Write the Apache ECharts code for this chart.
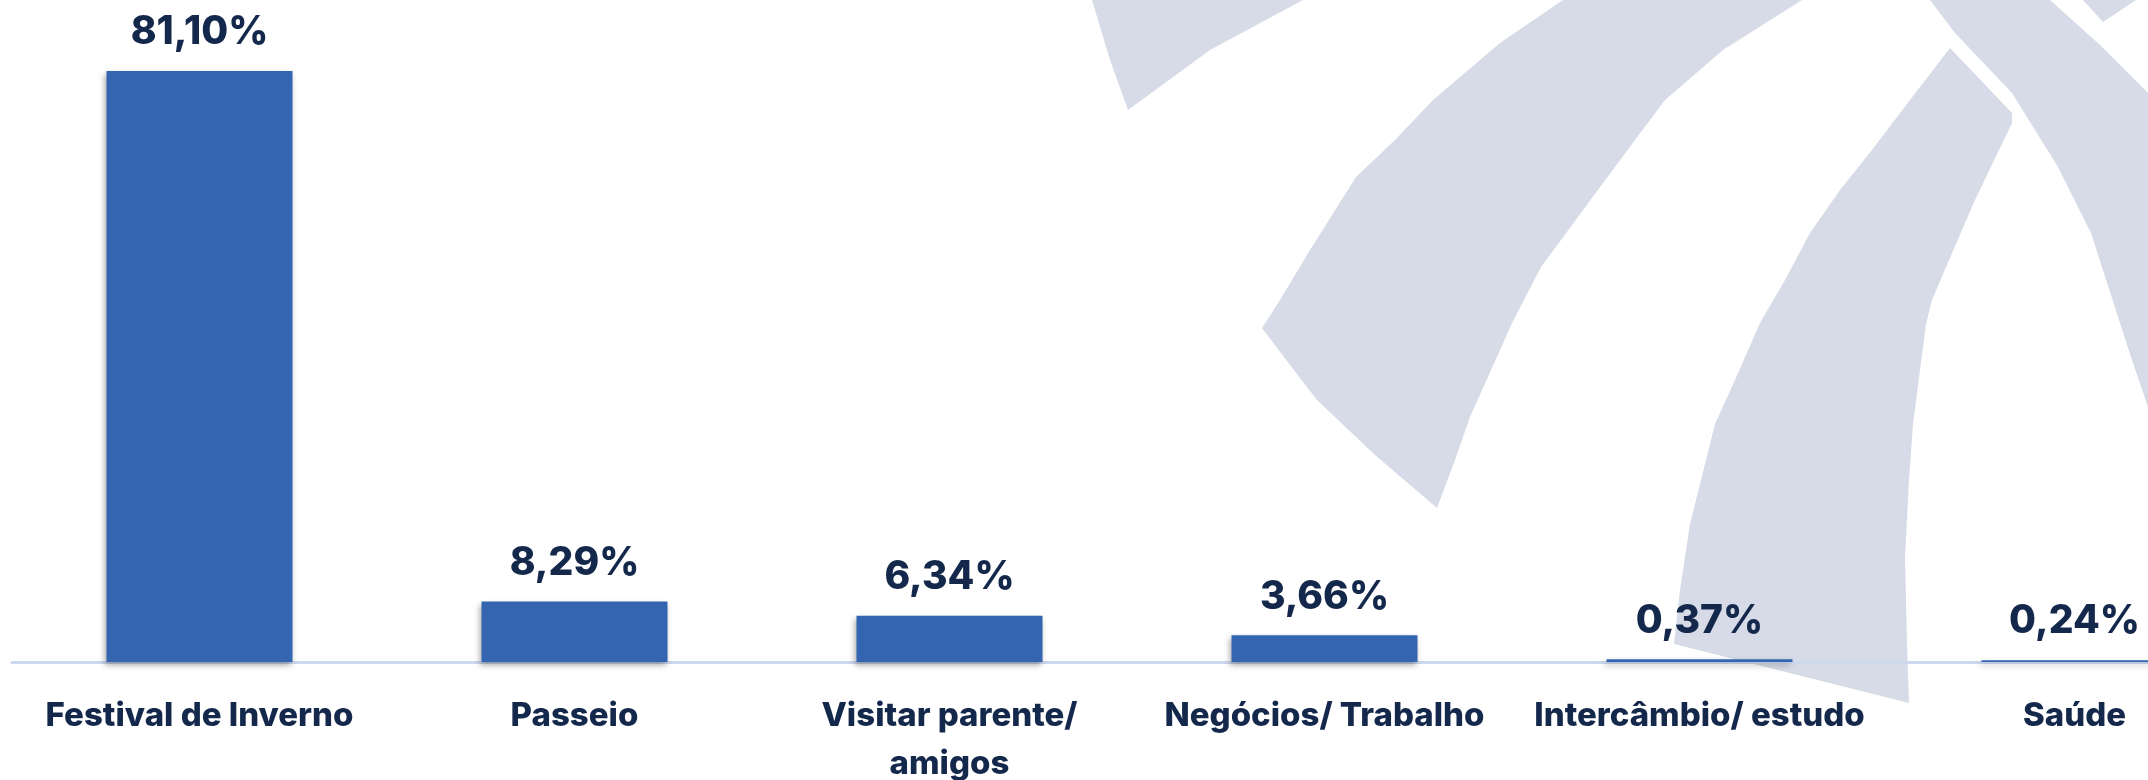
<!DOCTYPE html>
<html>
<head>
<meta charset="utf-8">
<script src="https://cdn.jsdelivr.net/npm/echarts@6/dist/echarts.min.js"></script>
<style>
  html, body { margin: 0; padding: 0; background: #fff; overflow: hidden; }
  #chart { width: 2148px; height: 780px; }
</style>
</head>
<body>
<div id="chart"></div>
<script>
// dados
var categories = ['Festival de Inverno', 'Passeio', 'Visitar parente/\namigos', 'Negócios/ Trabalho', 'Intercâmbio/ estudo', 'Saúde'];
var percentages = [81.10, 8.29, 6.34, 3.66, 0.37, 0.24];

var navy = '#14284b';
var wm = '#d6dbe7';

// marca d'agua de fundo
function shape(points) {
    return {
        type: 'polygon',
        z: -10,
        silent: true,
        shape: { points: points, smooth: 0 },
        style: { fill: wm }
    };
}

var myChart = echarts.init(document.getElementById('chart'));
var option = {
    backgroundColor: '#ffffff',
    graphic: [
        shape([[1092, 0], [1110, 60], [1128, 110], [1210, 50], [1303, 0]]),
        shape([[1563, 0], [1500, 43], [1433, 100], [1395, 140], [1356, 177], [1310, 250], [1280, 300], [1262, 328],
               [1290, 365], [1317, 400], [1375, 455], [1437, 508], [1455, 460], [1470, 417], [1500, 350], [1512, 323],
               [1541, 267], [1572, 225], [1603, 183], [1635, 140], [1665, 100], [1723, 50], [1802, 0]]),
        shape([[1950, 48], [1910, 100], [1872, 150], [1840, 190], [1810, 233], [1785, 280], [1760, 323], [1735, 380],
               [1715, 424], [1690, 524], [1680, 590], [1674, 644], [1909, 703], [1907, 644], [1905, 557], [1909, 480],
               [1913, 424], [1926, 324], [1932, 300], [1946, 267], [1975, 200], [2012, 123], [2012, 113]]),
        shape([[1930, 0], [1955, 33], [2012, 93], [2058, 167], [2091, 233], [2120, 323], [2132, 360], [2148, 407],
               [2148, 93], [2100, 45], [2050, 0]]),
        shape([[2083, 0], [2103, 22], [2136, 0]])
    ],
    grid: {
        left: 12,
        right: -114,
        top: 71,
        bottom: 118,
        containLabel: false,
        outerBoundsMode: 'none'
    },
    xAxis: {
        type: 'category',
        data: categories,
        axisTick: { show: false },
        axisLine: {
            lineStyle: { color: '#cdd8ee', width: 3 }
        },
        axisLabel: {
            interval: 0,
            margin: 30,
            fontSize: 33,
            lineHeight: 48,
            fontWeight: 800,
            fontFamily: 'Inter',
            color: navy
        }
    },
    yAxis: {
        type: 'value',
        min: 0,
        max: 81.1,
        show: false,
        splitLine: { show: false }
    },
    series: [{
        type: 'bar',
        data: percentages,
        barWidth: 186,
        itemStyle: {
            color: '#3465b0',
            shadowColor: 'rgba(0,0,0,0.35)',
            shadowBlur: 6,
            shadowOffsetX: -2,
            shadowOffsetY: 3
        },
        label: {
            show: true,
            position: 'top',
            distance: 19,
            fontSize: 39,
            fontWeight: 800,
            fontFamily: 'Inter',
            color: navy,
            formatter: function (p) {
                return p.value.toFixed(2).replace('.', ',') + '%';
            }
        }
    }]
};
myChart.setOption(option);
</script>
</body>
</html>
